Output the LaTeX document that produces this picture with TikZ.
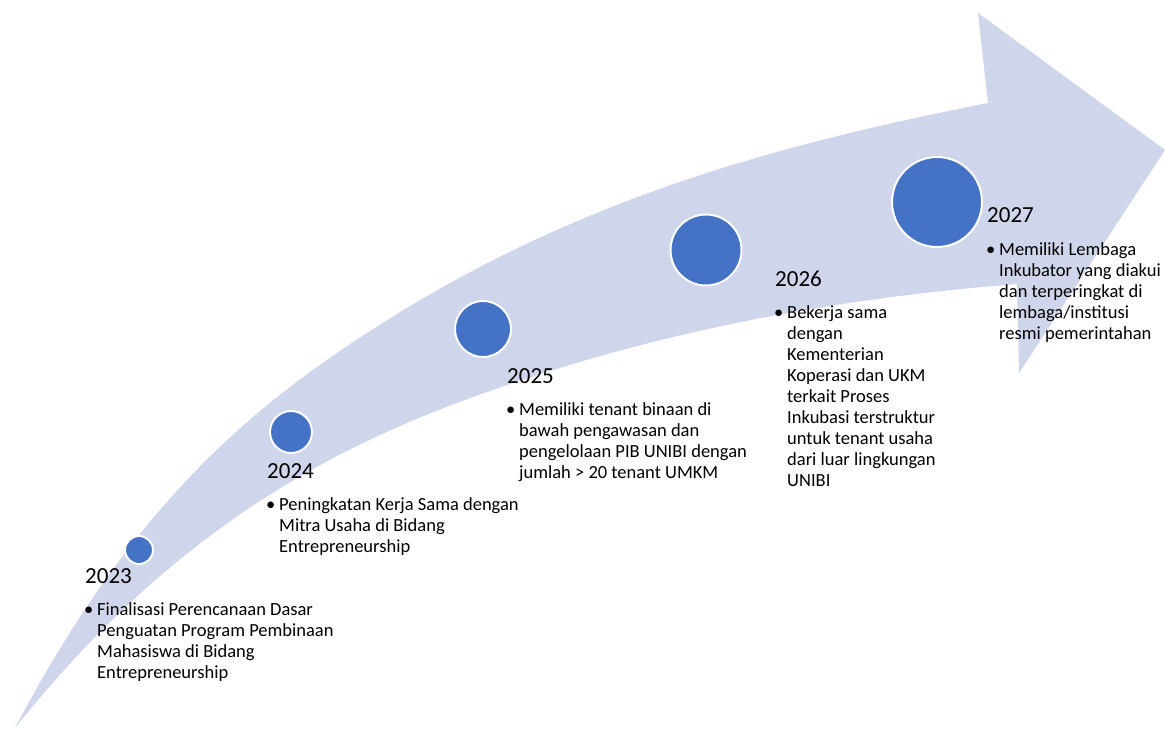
\documentclass[tikz,border=0pt]{standalone}
\usepackage{fontspec}
\setmainfont{Carlito}
\usepackage{xcolor}
\usepackage{tikz}
\definecolor{bandblue}{HTML}{CFD5EA}
\definecolor{dotblue}{HTML}{4472C4}
\newcommand{\bitem}[1]{\makebox[13pt][l]{\textbullet}\begin{tabular}[t]{@{}l@{}}#1\end{tabular}}

\begin{document}
\begin{tikzpicture}[x=1pt, y=-1pt,
    dot/.style={circle, fill=dotblue, draw=white, line width=2pt, inner sep=0pt},
    year/.style={anchor=base west, inner sep=0pt, font=\fontsize{23}{28}\selectfont},
    item/.style={anchor=base west, inner sep=0pt, font=\fontsize{18.5}{21}\selectfont}]
    \useasboundingbox (0,0) rectangle (1165,729);
    % curved arrow
    \fill[bandblue] (15,728) .. controls (132,506) and (250,409) .. (367,333)
        .. controls (574,198) and (781,144) .. (988,103)
        -- (978,13) -- (1165,150) -- (1019,373) -- (1017,284)
        .. controls (841,298) and (666,329) .. (490,391)
        .. controls (332,446) and (173,530) .. (15,728) -- cycle;
    % milestones
    \node[dot, minimum size=28pt] (c23) at (139,550) {};
    \node[dot, minimum size=42pt] (c24) at (291,432) {};
    \node[dot, minimum size=56pt] (c25) at (483,329) {};
    \node[dot, minimum size=71pt] (c26) at (706,250) {};
    \node[dot, minimum size=90pt] (c27) at (937,202) {};
    % years
    \node[year] (y23) at (85,583) {2023};
    \node[year] (y24) at (267,478) {2024};
    \node[year] (y25) at (507,383) {2025};
    \node[year] (y26) at (775,286) {2026};
    \node[year] (y27) at (987,222) {2027};
    % texts
    \node[item] (t23) at (84,615) {\bitem{Finalisasi Perencanaan Dasar\\Penguatan Program Pembinaan\\Mahasiswa di Bidang\\Entrepreneurship}};
    \node[item] (t24) at (266,510) {\bitem{Peningkatan Kerja Sama dengan\\Mitra Usaha di Bidang\\Entrepreneurship}};
    \node[item] (t25) at (506,415) {\bitem{Memiliki tenant binaan di\\bawah pengawasan dan\\pengelolaan PIB UNIBI dengan\\jumlah > 20 tenant UMKM}};
    \node[item] (t26) at (774,318) {\bitem{Bekerja sama\\dengan\\Kementerian\\Koperasi dan UKM\\terkait Proses\\Inkubasi terstruktur\\untuk tenant usaha\\dari luar lingkungan\\UNIBI}};
    \node[item] (t27) at (986,255) {\bitem{Memiliki Lembaga\\Inkubator yang diakui\\dan terperingkat di\\lembaga/institusi\\resmi pemerintahan}};
\end{tikzpicture}
\end{document}
